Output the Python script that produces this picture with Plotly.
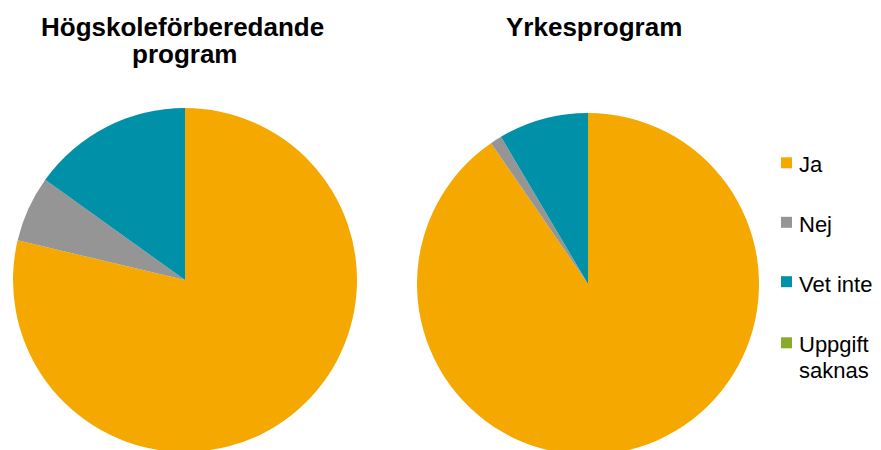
import plotly.graph_objects as go

categories = ["Ja", "Nej", "Vet inte", "Uppgift saknas"]
hogskole_values = [78.7, 6.2, 15.1, 0.0]
yrkes_values = [90.4, 1.1, 8.5, 0.0]
title_left_lines = ["Högskoleförberedande", "program"]
title_right = "Yrkesprogram"
legend_lines = [["Ja"], ["Nej"], ["Vet inte"], ["Uppgift", "saknas"]]
colors = ["#F5A800", "#959595", "#0090A8", "#8BAA2A"]

W, H = 881, 450
OFF = 8  # page body margin offset

def fx(px):
    return (px - OFF) / W

def fy(py):
    return 1 - (py - OFF) / H

def dom(x0, x1, y0, y1):
    return dict(x=[fx(x0), fx(x1)], y=[fy(y1), fy(y0)])

fig = go.Figure()
fig.add_trace(go.Pie(
    labels=categories, values=hogskole_values, sort=False, direction="clockwise",
    rotation=0, textinfo="none", marker=dict(colors=colors, line=dict(width=0)),
    domain=dom(13, 357, 108, 452), showlegend=False, name="Högskoleförberedande program",
))
fig.add_trace(go.Pie(
    labels=categories, values=yrkes_values, sort=False, direction="clockwise",
    rotation=0, textinfo="none", marker=dict(colors=colors, line=dict(width=0)),
    domain=dom(417, 759, 113, 455), showlegend=False, name="Yrkesprogram",
))

font_family = "Liberation Sans, Arial, sans-serif"
TS = 26
annotations = []
for text, cx, base in [(title_left_lines[0], 182, 36), (title_left_lines[1], 184, 63.5),
                       (title_right, 593.7, 35.7)]:
    annotations.append(dict(text="<b>" + text + "</b>", x=fx(cx), y=fy(base - 0.35 * TS),
                            xref="paper", yref="paper", showarrow=False,
                            xanchor="center", yanchor="middle",
                            font=dict(size=TS, family=font_family, color="black")))

LS = 22
shapes = []
square_centers = [162.8, 222.3, 281.7, 342.8]
baselines = [[172.3], [231.8], [291.7], [351.7, 377.7]]
for cy, lines, bls, col in zip(square_centers, legend_lines, baselines, colors):
    shapes.append(dict(type="rect", xref="paper", yref="paper",
                       x0=fx(781), x1=fx(792), y0=fy(cy + 5.5), y1=fy(cy - 5.5),
                       fillcolor=col, line=dict(width=0)))
    for ln, bl in zip(lines, bls):
        annotations.append(dict(text=ln, x=fx(797), y=fy(bl - 0.35 * LS),
                                xref="paper", yref="paper", showarrow=False,
                                xanchor="left", yanchor="middle",
                                font=dict(size=LS, family=font_family, color="black")))

fig.update_layout(
    width=W, height=H, margin=dict(l=0, r=0, t=0, b=0),
    paper_bgcolor="white", plot_bgcolor="white",
    annotations=annotations, shapes=shapes, showlegend=False,
)
fig.write_html("out.html")
